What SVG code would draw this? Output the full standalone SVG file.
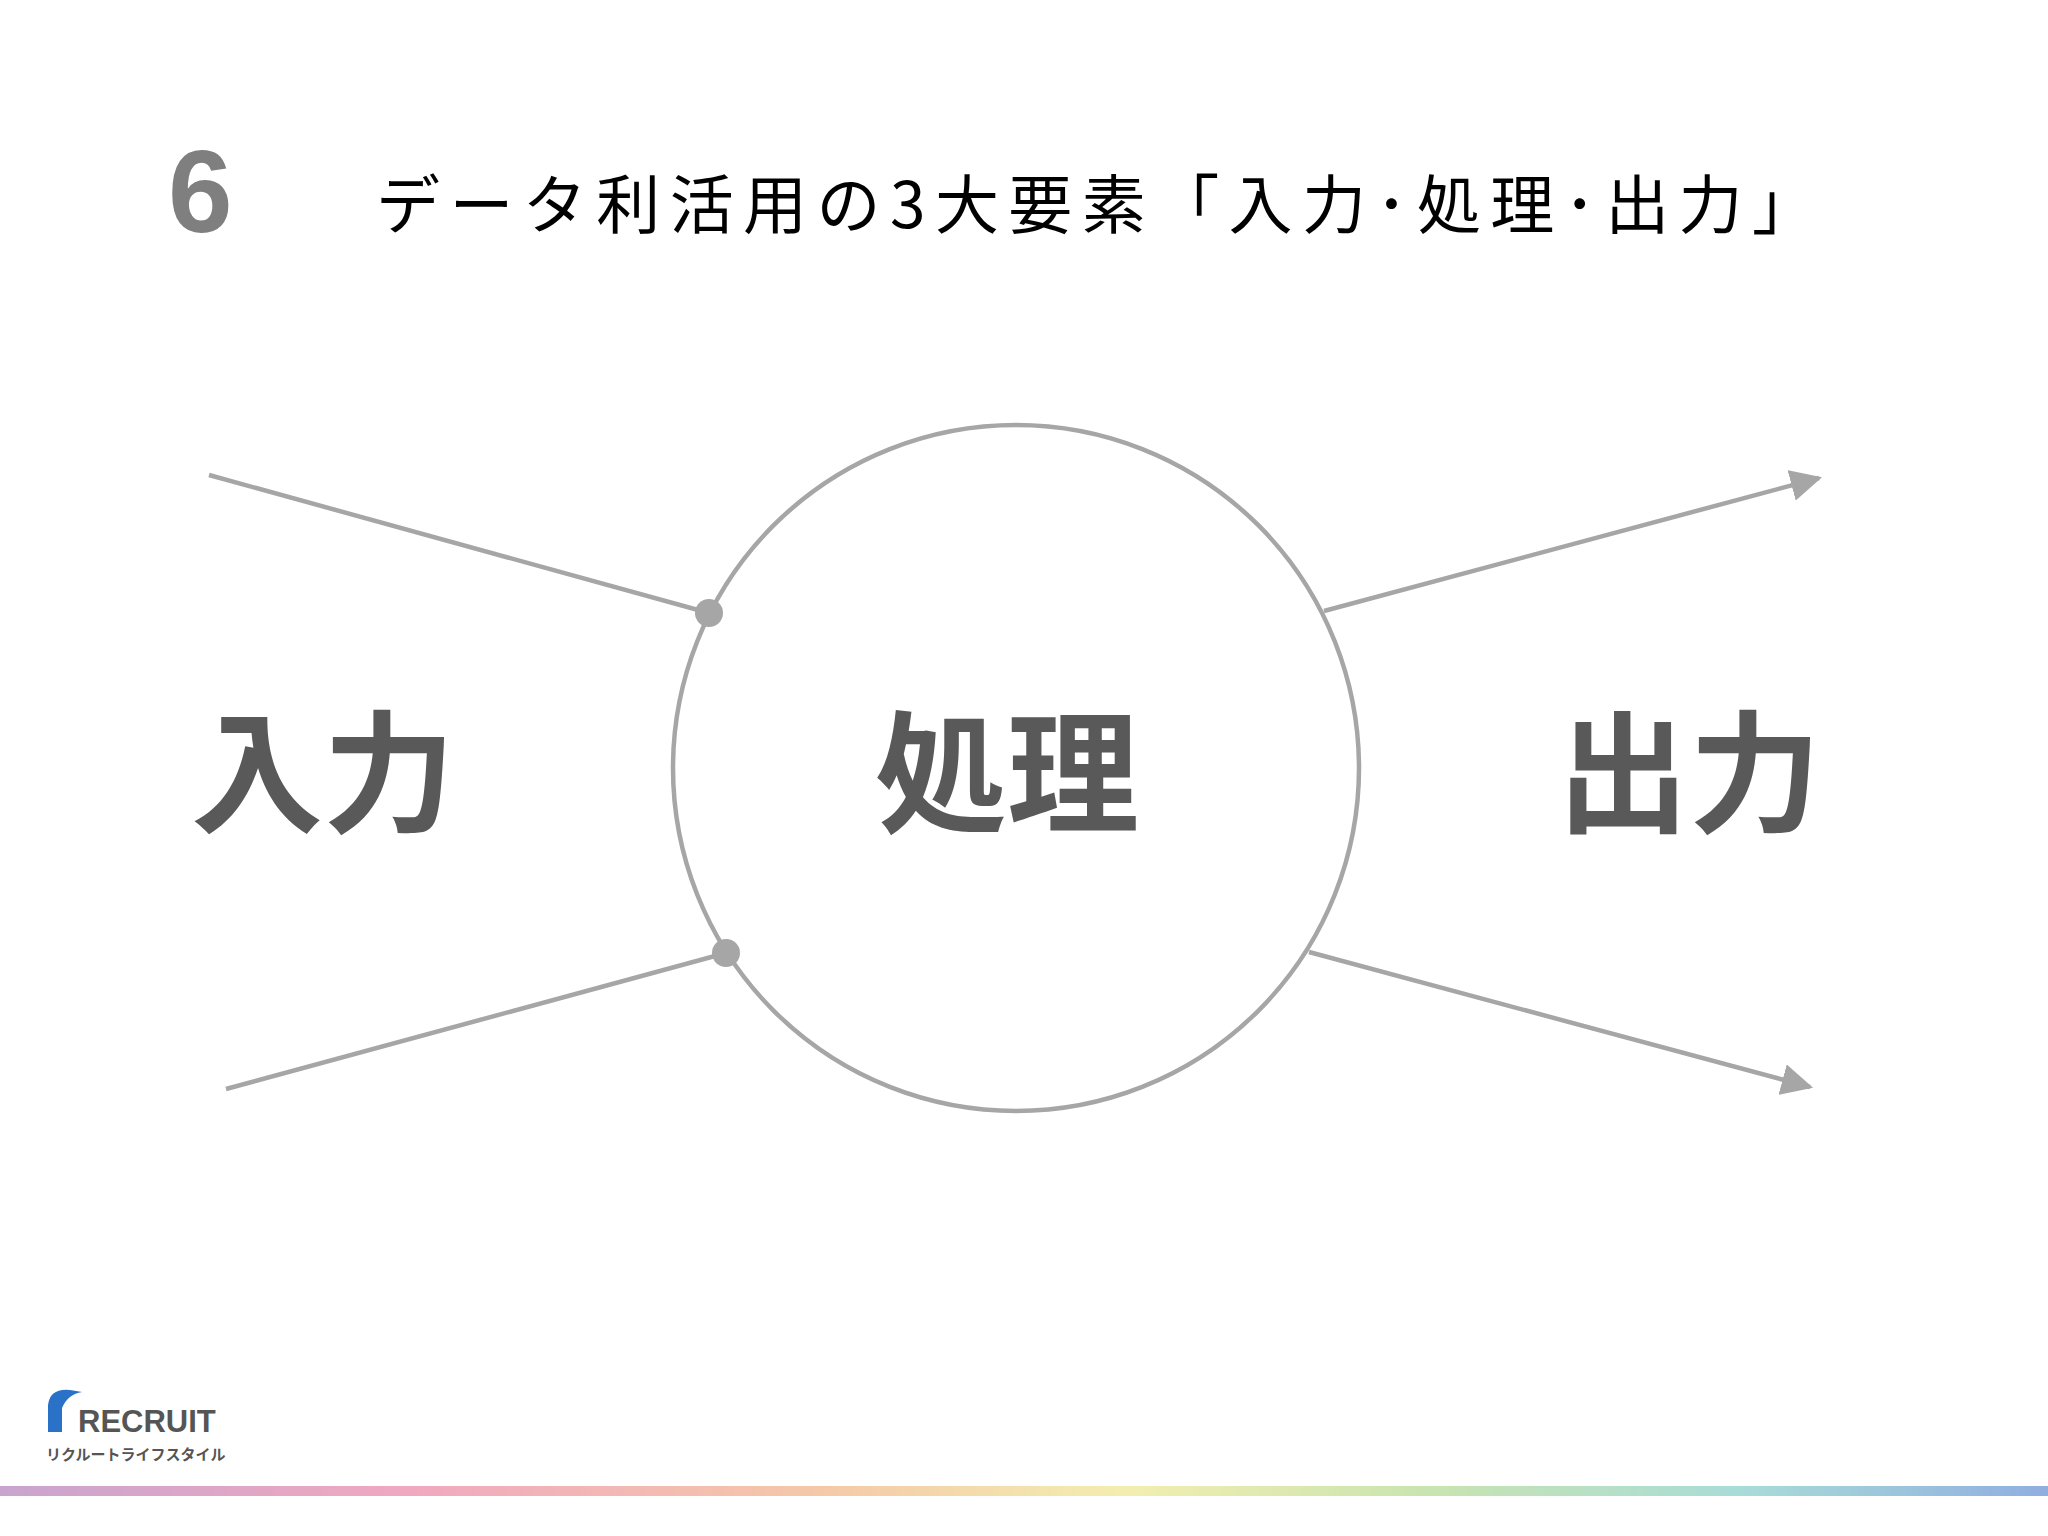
<svg xmlns="http://www.w3.org/2000/svg" width="2048" height="1536" viewBox="0 0 2048 1536">
<defs>
<style>
.ln{stroke:#a6a6a6;stroke-width:4.5;fill:none}
.big{font-family:"Noto Sans CJK JP",sans-serif;font-weight:bold;font-size:132px;fill:#595959;text-anchor:middle}
</style>
<marker id="ah" viewBox="0 0 10 10" refX="9" refY="5" markerWidth="7" markerHeight="7" markerUnits="strokeWidth" orient="auto"><path d="M0,0L10,5L0,10z" fill="#a6a6a6"/></marker>
<linearGradient id="rb" x1="0" x2="1"><stop offset="0" stop-color="#c9a4cf"/><stop offset="0.2" stop-color="#f0a8c0"/><stop offset="0.4" stop-color="#f5c8a8"/><stop offset="0.55" stop-color="#f3eeb0"/><stop offset="0.7" stop-color="#c8e4b0"/><stop offset="0.85" stop-color="#a8dcd8"/><stop offset="1" stop-color="#90aee0"/></linearGradient>
</defs>
<rect width="2048" height="1536" fill="#fff"/>
<text x="168" y="232" font-family="Liberation Sans,sans-serif" font-weight="bold" font-size="116" fill="#7f7f7f">6</text>
<text x="376" y="228" font-family="Noto Sans CJK JP,sans-serif" font-size="64" fill="#000" textLength="1440">データ利活用の3大要素「入力･処理･出力」</text>
<g id="circle"><circle cx="1016" cy="768" r="343" class="ln"/></g>
<g id="connectors">
<line x1="209" y1="475" x2="709" y2="613" class="ln"/>
<line x1="226" y1="1089" x2="726" y2="953" class="ln"/>
<circle cx="709" cy="613" r="14" fill="#a6a6a6"/>
<circle cx="726" cy="953" r="14" fill="#a6a6a6"/>
<line x1="1324" y1="611" x2="1819" y2="478" class="ln" marker-end="url(#ah)"/>
<line x1="1309" y1="952" x2="1810" y2="1087" class="ln" marker-end="url(#ah)"/>
</g>
<g id="input"><text x="323" y="822" class="big">入力</text></g>
<g id="process"><text x="1007" y="822" class="big">処理</text></g>
<g id="output"><text x="1689" y="822" class="big">出力</text></g>
<g id="logo">
<path d="M48,1432 L48,1405 Q50,1388 70,1390 L82,1392 Q68,1394 62,1408 L62,1432 Z" fill="#2a72c8"/>
<text x="78" y="1432" font-family="Liberation Sans,sans-serif" font-weight="bold" font-size="31" fill="#555">RECRUIT</text>
<text x="46" y="1460" font-family="Noto Sans CJK JP,sans-serif" font-weight="bold" font-size="15" fill="#555">リクルートライフスタイル</text>
</g>
<rect x="0" y="1486" width="2048" height="10" fill="url(#rb)"/>
</svg>
